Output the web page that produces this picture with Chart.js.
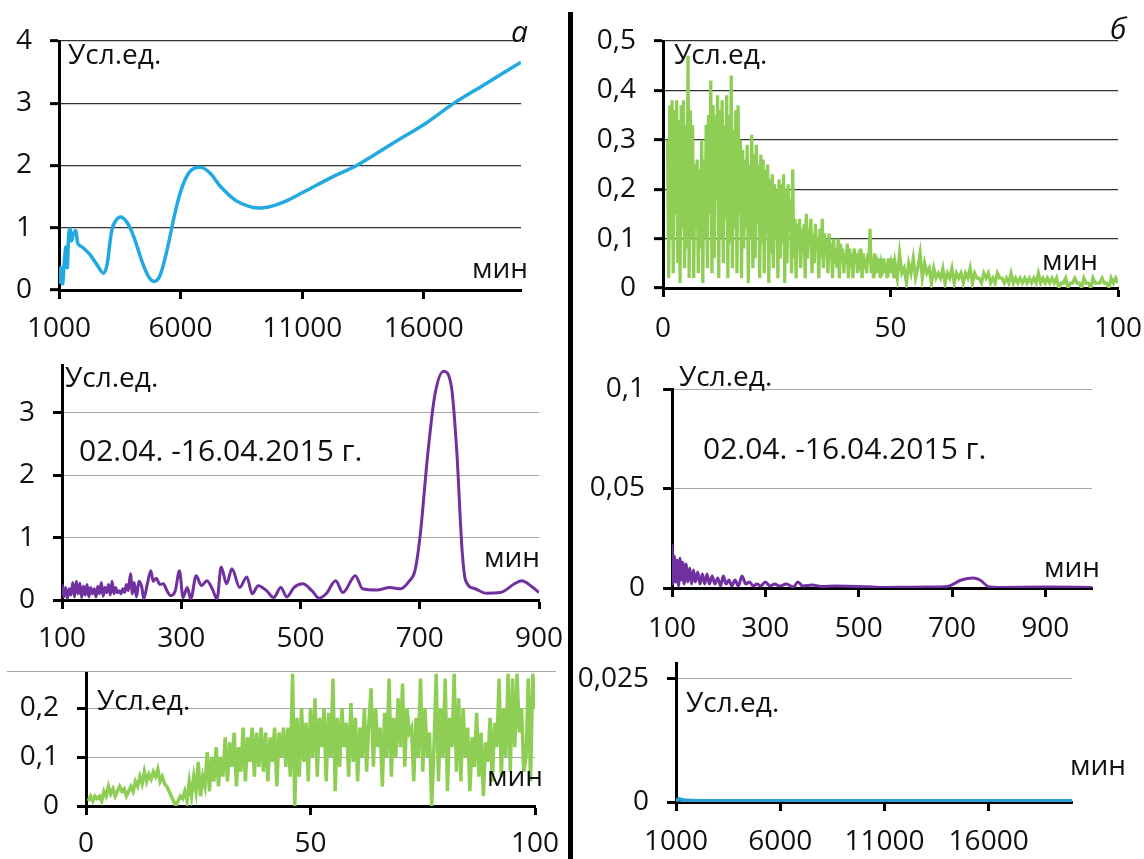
<!DOCTYPE html>
<html>
<head>
<meta charset="utf-8">
<script src="https://cdn.jsdelivr.net/npm/chart.js@4.4.0/dist/chart.umd.min.js"></script>
<style>
    body {
        margin: 0;
        width: 1144px;
        height: 859px;
        background: #fff;
        position: relative;
        overflow: hidden;
        font-family: 'Open Sans', sans-serif;
        color: #111;
    }
    .panel { position: absolute; }
    .txt { position: absolute; font-size: 28px; line-height: 1; white-space: nowrap; }
    .date { font-size: 30px; }
    .letter { font-size: 30px; font-style: italic; }
    #divider { position: absolute; left: 568px; top: 12px; width: 5px; height: 847px; background: #000; }
    #topLine { position: absolute; left: 7px; top: 671px; width: 549px; height: 0; border-top: 1.5px solid #a6a6a6; }
</style>
</head>
<body>
<div id="divider"></div>
<div id="topLine"></div>

<div class="txt" style="left:68px; top:39px;">Усл.ед.</div>
<div class="txt" style="left:472px; top:253px;">мин</div>
<div class="txt letter" style="left:511px; top:16px;">а</div>

<div class="txt" style="left:674px; top:39px;">Усл.ед.</div>
<div class="txt" style="left:1042px; top:245px;">мин</div>
<div class="txt letter" style="left:1110px; top:13px;">б</div>

<div class="txt" style="left:65px; top:362px;">Усл.ед.</div>
<div class="txt date" style="left:79px; top:435px;">02.04. -16.04.2015 г.</div>
<div class="txt" style="left:484px; top:542px;">мин</div>

<div class="txt" style="left:679px; top:361px;">Усл.ед.</div>
<div class="txt date" style="left:703px; top:433px;">02.04. -16.04.2015 г.</div>
<div class="txt" style="left:1044px; top:552px;">мин</div>

<div class="txt" style="left:97px; top:685px;">Усл.ед.</div>
<div class="txt" style="left:487px; top:761px;">мин</div>

<div class="txt" style="left:686px; top:687px;">Усл.ед.</div>
<div class="txt" style="left:1070px; top:750px;">мин</div>

<script>
// --- а, top: long-period spectrum (blue)
const aX = [1000, 1070, 1150, 1220, 1290, 1340, 1400, 1455, 1510, 1590, 1690, 1780, 1950, 2250, 2540, 2830,
    2980, 3200, 3490, 3790, 4080, 4450, 4740, 4960, 5180, 5470, 5760, 6060, 6420, 6860, 7230, 7670, 8260,
    8840, 9400, 10160, 11040, 12210, 13240, 14700, 16170, 17200, 18370, 20000];
const aY = [0.10, 0.36, 0.10, 0.47, 0.69, 0.36, 0.90, 0.98, 0.79, 0.90, 0.95, 0.74, 0.69, 0.58, 0.42, 0.27,
    0.42, 1.00, 1.17, 1.09, 0.85, 0.42, 0.18, 0.14, 0.26, 0.69, 1.22, 1.65, 1.92, 1.97, 1.87, 1.65, 1.44,
    1.34, 1.32, 1.40, 1.57, 1.81, 2.00, 2.35, 2.70, 2.99, 3.27, 3.66];
const aXTicks = [1000, 6000, 11000, 16000];
const aYTicks = [0, 1, 2, 3, 4];

// --- б, top: short-period spectrum (green)
// every 0.25 min from 1 to 50.75
const bHead = [
    0.30, 0.02, 0.37, 0.10, 0.38, 0.03, 0.36, 0.15, 0.38, 0.05, 0.34, 0.01, 0.37, 0.12, 0.38, 0.04, 0.33, 0.08, 0.47, 0.02,
    0.36, 0.10, 0.33, 0.02, 0.25, 0.12, 0.26, 0.03, 0.24, 0.08, 0.30, 0.01, 0.26, 0.10, 0.33, 0.04, 0.35, 0.15, 0.42, 0.03,
    0.37, 0.06, 0.35, 0.18, 0.39, 0.02, 0.36, 0.10, 0.38, 0.05, 0.33, 0.14, 0.39, 0.02, 0.35, 0.09, 0.43, 0.04, 0.32, 0.12,
    0.36, 0.03, 0.37, 0.15, 0.30, 0.02, 0.28, 0.08, 0.26, 0.12, 0.29, 0.01, 0.25, 0.10, 0.31, 0.04, 0.27, 0.06, 0.29, 0.13,
    0.25, 0.02, 0.27, 0.09, 0.26, 0.03, 0.24, 0.11, 0.25, 0.01, 0.22, 0.07, 0.23, 0.04, 0.21, 0.10, 0.20, 0.02, 0.22, 0.06,
    0.21, 0.09, 0.23, 0.01, 0.20, 0.05, 0.21, 0.12, 0.18, 0.03, 0.24, 0.06, 0.14, 0.02, 0.13, 0.08, 0.14, 0.04, 0.12, 0.07,
    0.13, 0.02, 0.15, 0.06, 0.12, 0.09, 0.14, 0.03, 0.11, 0.05, 0.13, 0.08, 0.10, 0.02, 0.12, 0.06, 0.14, 0.04, 0.11, 0.07,
    0.10, 0.03, 0.11, 0.06, 0.09, 0.02, 0.10, 0.05, 0.08, 0.04, 0.10, 0.02, 0.09, 0.06, 0.08, 0.03, 0.07, 0.05, 0.09, 0.02,
    0.08, 0.04, 0.07, 0.02, 0.08, 0.05, 0.07, 0.03, 0.06, 0.05, 0.08, 0.02, 0.07, 0.04, 0.06, 0.03, 0.07, 0.05, 0.12, 0.03,
    0.06, 0.02, 0.07, 0.04, 0.05, 0.03, 0.06, 0.02, 0.05, 0.04, 0.06, 0.03, 0.05, 0.02, 0.06, 0.04, 0.05, 0.03, 0.06, 0.02
];
// every 0.5 min from 51 to 100
const bTail = [
    0.05, 0.02, 0.07, 0.03, 0.04, 0.01, 0.05, 0.03, 0.06, 0.02,
    0.04, 0.07, 0.02, 0.05, 0.03, 0.04, 0.01, 0.04, 0.02, 0.03,
    0.02, 0.04, 0.01, 0.03, 0.02, 0.04, 0.01, 0.03, 0.02, 0.03,
    0.01, 0.03, 0.02, 0.04, 0.01, 0.03, 0.02, 0.02, 0.01, 0.03,
    0.02, 0.03, 0.01, 0.02, 0.01, 0.03, 0.02, 0.02, 0.01, 0.02,
    0.01, 0.03, 0.01, 0.02, 0.01, 0.02, 0.01, 0.02, 0.01, 0.02,
    0.01, 0.02, 0.01, 0.03, 0.01, 0.02, 0.01, 0.02, 0.01, 0.02,
    0.01, 0.02, 0.00, 0.01, 0.01, 0.02, 0.00, 0.01, 0.01, 0.02,
    0.01, 0.01, 0.00, 0.02, 0.01, 0.01, 0.00, 0.02, 0.01, 0.01,
    0.01, 0.02, 0.01, 0.01, 0.00, 0.02, 0.01, 0.02, 0.01
];
const bX = [...bHead.map((_, i) => 1 + i * 0.25), ...bTail.map((_, i) => 51 + i * 0.5)];
const bY = [...bHead, ...bTail];
const bXTicks = [0, 50, 100];
const bYTicks = [0, 0.1, 0.2, 0.3, 0.4, 0.5];

// --- а, middle: 100-900 min (purple)
const pX = [100, 103, 106, 109, 112, 115, 118, 121, 124, 127, 130, 133, 136, 139, 142, 145, 148, 151, 154,
    157, 160, 163, 166, 169, 172, 175, 178, 181, 184, 187, 190, 193, 196, 199, 202, 205, 208, 211, 215, 218,
    221, 225, 229, 234, 237, 243, 249, 253, 258, 264, 270, 276, 282, 290, 297, 303, 310, 316, 325, 334, 343,
    352, 360, 367, 376, 385, 398, 410, 419, 429, 443, 455, 467, 477, 489, 504, 519, 531, 543, 559, 571, 592,
    604, 628, 650, 668, 683, 692, 701, 713, 725, 740, 753, 762, 771, 777, 793, 811, 835, 859, 871, 886, 900];
const pY = [0.25, 0.05, 0.20, 0.03, 0.18, 0.08, 0.28, 0.05, 0.30, 0.10, 0.27, 0.04, 0.22, 0.08, 0.25, 0.05,
    0.20, 0.10, 0.18, 0.05, 0.22, 0.10, 0.28, 0.06, 0.20, 0.12, 0.25, 0.08, 0.30, 0.10, 0.20, 0.12, 0.15, 0.10,
    0.18, 0.12, 0.25, 0.15, 0.42, 0.10, 0.28, 0.05, 0.30, 0.20, 0.02, 0.25, 0.47, 0.30, 0.35, 0.25, 0.26, 0.15,
    0.07, 0.15, 0.47, 0.04, 0.20, 0.02, 0.39, 0.23, 0.31, 0.18, 0.02, 0.53, 0.26, 0.50, 0.20, 0.37, 0.10, 0.23,
    0.15, 0.04, 0.20, 0.05, 0.20, 0.26, 0.15, 0.03, 0.10, 0.31, 0.12, 0.39, 0.18, 0.16, 0.20, 0.18, 0.31, 0.47,
    1.06, 2.30, 3.27, 3.67, 3.43, 2.40, 0.80, 0.31, 0.18, 0.11, 0.12, 0.26, 0.31, 0.23, 0.12];
const pXTicks = [100, 300, 500, 700, 900];
const pYTicks = [0, 1, 2, 3];

// --- б, middle: 100-1000 min (purple, small scale)
const qX = [100, 102, 105, 108, 111, 114, 117, 120, 123, 126, 130, 134, 138, 142, 146, 150, 155, 160, 165,
    170, 175, 180, 186, 192, 198, 204, 210, 216, 222, 228, 235, 242, 250, 258, 266, 274, 282, 290, 300, 310,
    320, 330, 345, 360, 370, 380, 400, 420, 450, 500, 550, 600, 650, 690, 720, 745, 760, 780, 800, 900, 1000];
const qY = [0.022, 0.002, 0.016, 0.003, 0.014, 0.001, 0.015, 0.004, 0.013, 0.002, 0.012, 0.003, 0.010, 0.002,
    0.009, 0.003, 0.008, 0.002, 0.007, 0.002, 0.007, 0.002, 0.006, 0.002, 0.005, 0.001, 0.006, 0.002, 0.004,
    0.001, 0.004, 0.001, 0.006, 0.002, 0.003, 0.001, 0.002, 0.001, 0.003, 0.001, 0.002, 0.001, 0.002, 0.0005,
    0.003, 0.001, 0.0015, 0.0008, 0.001, 0.0008, 0.0003, 0.0004, 0.0005, 0.0008, 0.004, 0.005, 0.004, 0.0005,
    0.0003, 0.0005, 0.0003];
const qXTicks = [100, 300, 500, 700, 900];
const qYTicks = [0, 0.05, 0.1];

// --- а, bottom: 0-100 min (green), every 0.5 min
const gY = [
    0.01, 0.02, 0.01, 0.02, 0.015, 0.02, 0.01, 0.03, 0.02, 0.04, 0.025, 0.035, 0.02, 0.03, 0.04, 0.03, 0.035, 0.02, 0.03, 0.04,
    0.03, 0.05, 0.04, 0.06, 0.045, 0.07, 0.05, 0.065, 0.055, 0.07, 0.06, 0.075, 0.05, 0.06, 0.045, 0.04, 0.03, 0.02, 0.01, 0.0,
    0.01, 0.02, 0.015, 0.03, 0.01, 0.05, 0.02, 0.06, 0.03, 0.09, 0.02, 0.06, 0.04, 0.11, 0.03, 0.10, 0.05, 0.12, 0.04, 0.10,
    0.06, 0.14, 0.05, 0.13, 0.08, 0.15, 0.04, 0.12, 0.07, 0.16, 0.05, 0.14, 0.09, 0.16, 0.06, 0.15, 0.08, 0.16, 0.07, 0.15,
    0.05, 0.14, 0.09, 0.16, 0.04, 0.15, 0.10, 0.16, 0.08, 0.16, 0.06, 0.27, 0.0, 0.18, 0.06, 0.20, 0.09, 0.17, 0.05, 0.20,
    0.10, 0.22, 0.06, 0.18, 0.12, 0.20, 0.05, 0.19, 0.10, 0.26, 0.03, 0.18, 0.08, 0.20, 0.12, 0.17, 0.06, 0.21, 0.09, 0.18,
    0.05, 0.16, 0.10, 0.20, 0.07, 0.17, 0.24, 0.08, 0.20, 0.12, 0.16, 0.04, 0.19, 0.10, 0.26, 0.06, 0.18, 0.10, 0.22, 0.12,
    0.25, 0.08, 0.20, 0.15, 0.16, 0.05, 0.18, 0.10, 0.26, 0.07, 0.20, 0.10, 0.15, 0.0, 0.12, 0.27, 0.05, 0.20, 0.10, 0.26,
    0.03, 0.18, 0.12, 0.27, 0.07, 0.22, 0.05, 0.20, 0.10, 0.16, 0.03, 0.14, 0.08, 0.19, 0.06, 0.15, 0.02, 0.13, 0.09, 0.18,
    0.05, 0.17, 0.12, 0.26, 0.06, 0.20, 0.10, 0.27, 0.07, 0.26, 0.12, 0.27, 0.15, 0.20, 0.07, 0.10, 0.26, 0.05, 0.27, 0.20
];
const gX = gY.map((_, i) => 0.5 + i * 0.5);
const gXTicks = [0, 50, 100];
const gYTicks = [0, 0.1, 0.2];

// --- б, bottom: 1000-20000 min (blue, small scale)
const rX = [1000, 1150, 1300, 1500, 2000, 4000, 8000, 12000, 16000, 20000];
const rY = [0.0002, 0.0006, 0.0004, 0.0003, 0.0002, 0.0002, 0.0002, 0.0002, 0.0002, 0.0002];
const rXTicks = [1000, 6000, 11000, 16000];
const rYTicks = [0, 0.025];

const FONT = { family: 'Open Sans', size: 28 };
const PT = 40;
const XH = 62;

function commaLabel(v) {
    return String(+Number(v).toFixed(4)).replace('.', ',');
}

function makePanel(cfg) {
    const box = document.createElement('div');
    box.className = 'panel';
    box.style.left = (cfg.L - cfg.yWidth) + 'px';
    box.style.top = (cfg.T - PT) + 'px';
    box.style.width = (cfg.R - cfg.L + cfg.yWidth + cfg.padRight) + 'px';
    box.style.height = (cfg.B - cfg.T + PT + XH) + 'px';
    const canvas = document.createElement('canvas');
    box.appendChild(canvas);
    document.body.insertBefore(box, document.body.firstChild);

    new Chart(canvas, {
        type: 'line',
        data: {
            datasets: [{
                data: cfg.xs.map((x, i) => ({ x: x, y: cfg.ys[i] })),
                borderColor: cfg.color,
                borderWidth: cfg.lineWidth,
                pointRadius: 0,
                tension: cfg.tension,
                cubicInterpolationMode: cfg.monotone ? 'monotone' : 'default',
                fill: false
            }]
        },
        options: {
            responsive: true,
            maintainAspectRatio: false,
            animation: false,
            layout: { padding: { top: PT, right: cfg.padRight, left: 0, bottom: 0 } },
            plugins: { legend: { display: false }, tooltip: { enabled: false } },
            scales: {
                x: {
                    type: 'linear',
                    bounds: 'data',
                    min: cfg.xMin,
                    max: cfg.xMax,
                    afterBuildTicks: s => { s.ticks = cfg.xTicks.map(v => ({ value: v })); },
                    afterFit: s => { s.height = XH; },
                    grid: { drawOnChartArea: false, drawTicks: true, tickLength: 9, tickWidth: 3, tickColor: '#000' },
                    border: { display: true, color: '#000', width: 3 },
                    ticks: {
                        autoSkip: false, maxRotation: 0, padding: cfg.xPad, color: '#111', font: FONT,
                        callback: v => String(v)
                    }
                },
                y: {
                    type: 'linear',
                    bounds: 'data',
                    min: 0,
                    max: cfg.yMax,
                    afterBuildTicks: s => { s.ticks = cfg.yTicks.map(v => ({ value: v })); },
                    afterFit: s => { s.width = cfg.yWidth; },
                    grid: { color: cfg.gridColor, lineWidth: cfg.gridWidth, tickLength: 9, tickWidth: 3, tickColor: '#000' },
                    border: { display: true, color: '#000', width: 3 },
                    ticks: { padding: 18, color: '#111', font: FONT, callback: commaLabel }
                }
            }
        }
    });
}

makePanel({ L: 59, T: 41, R: 521, B: 290, yWidth: 55, padRight: 10, xPad: 13,
    xs: aX, ys: aY, xMin: 1000, xMax: 20000, yMax: 4, xTicks: aXTicks, yTicks: aYTicks,
    color: '#22a9e1', lineWidth: 3.5, tension: 0.35, monotone: false, gridColor: '#333', gridWidth: 1.3 });

makePanel({ L: 663, T: 41, R: 1118, B: 288, yWidth: 85, padRight: 45, xPad: 15,
    xs: bX, ys: bY, xMin: 0, xMax: 100, yMax: 0.5, xTicks: bXTicks, yTicks: bYTicks,
    color: '#8fce55', lineWidth: 3.3, tension: 0, monotone: false, gridColor: '#333', gridWidth: 1.3 });

makePanel({ L: 62, T: 365, R: 539, B: 600, yWidth: 58, padRight: 45, xPad: 13,
    xs: pX, ys: pY, xMin: 100, xMax: 900, yMax: 3.77, xTicks: pXTicks, yTicks: pYTicks,
    color: '#7030a0', lineWidth: 3, tension: 0.3, monotone: true, gridColor: '#a6a6a6', gridWidth: 1 });

makePanel({ L: 672, T: 389, R: 1092, B: 588, yWidth: 95, padRight: 10, xPad: 15,
    xs: qX, ys: qY, xMin: 100, xMax: 1000, yMax: 0.1, xTicks: qXTicks, yTicks: qYTicks,
    color: '#7030a0', lineWidth: 3, tension: 0.2, monotone: true, gridColor: '#a6a6a6', gridWidth: 1 });

makePanel({ L: 86, T: 672, R: 535, B: 806, yWidth: 80, padRight: 45, xPad: 12,
    xs: gX, ys: gY, xMin: 0, xMax: 100, yMax: 0.2735, xTicks: gXTicks, yTicks: gYTicks,
    color: '#8fce55', lineWidth: 3.5, tension: 0, monotone: false, gridColor: '#a6a6a6', gridWidth: 1 });

makePanel({ L: 676, T: 663, R: 1072, B: 802, yWidth: 100, padRight: 10, xPad: 14,
    xs: rX, ys: rY, xMin: 1000, xMax: 20000, yMax: 0.02825, xTicks: rXTicks, yTicks: rYTicks,
    color: '#2a9fd6', lineWidth: 4, tension: 0.3, monotone: true, gridColor: '#a6a6a6', gridWidth: 1 });
</script>
</body>
</html>
